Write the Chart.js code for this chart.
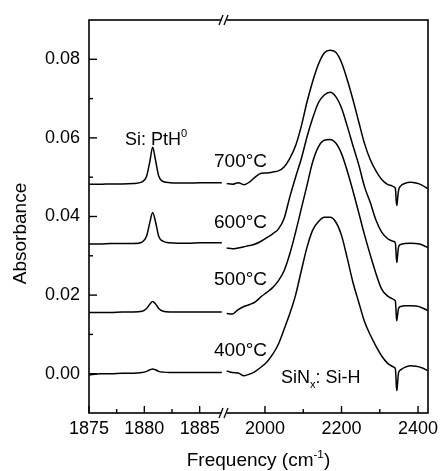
<!DOCTYPE html>
<html>
<head>
<meta charset="utf-8">
<script src="https://cdn.jsdelivr.net/npm/chart.js@4.4.0/dist/chart.umd.min.js"></script>
<style>
html,body{margin:0;padding:0;background:#fff;}
canvas{display:block;}
</style>
</head>
<body>
<canvas id="c" width="442" height="471"></canvas>
<script>
// ---- data (frequency in cm-1, absorbance) ----
const leftFreq = [1875, 1876, 1877, 1878, 1879, 1879.8, 1880.2, 1880.5, 1880.75, 1881.0, 1881.3, 1881.7, 1882.3, 1883, 1884, 1885, 1886, 1887];
const left700 = [0.0482,0.0482,0.0483,0.0483,0.0484,0.0488,0.0502,0.0540,0.0576,0.0545,0.0503,0.0489,0.0486,0.0485,0.0485,0.0486,0.0486,0.0486];
const left600 = [0.0330,0.0330,0.0331,0.0331,0.0331,0.0335,0.0350,0.0385,0.0410,0.0388,0.0350,0.0337,0.0333,0.0332,0.0332,0.0333,0.0333,0.0333];
const left500 = [0.0156,0.0156,0.0156,0.0157,0.0157,0.0159,0.0166,0.0177,0.0184,0.0178,0.0166,0.0159,0.0157,0.0157,0.0157,0.0157,0.0157,0.0157];
const left400 = [-0.0003,0.0000,0.0000,0.0001,0.0001,0.0003,0.0006,0.0010,0.0012,0.0010,0.0006,0.0004,0.0003,0.0003,0.0003,0.0003,0.0003,0.0003];

const rightFreq = [1900,1915,1930,1945,1960,1975,1990,2005,2020,2035,2050,2065,2080,2095,2110,2125,2140,2155,2170,2185,2200,2215,2230,2245,2260,2275,2290,2305,2320,2332,2338,2341,2343,2344.5,2346,2349,2355,2365,2380,2395,2410,2425];
const right700 = [0.0484,0.0482,0.0486,0.0481,0.0488,0.0501,0.0510,0.0511,0.0513,0.0516,0.0526,0.0548,0.0580,0.0630,0.0692,0.0745,0.0788,0.0816,0.0823,0.0818,0.0792,0.0748,0.0697,0.0641,0.0586,0.0545,0.0516,0.0494,0.0482,0.0478,0.0475,0.0470,0.0440,0.0428,0.0440,0.0466,0.0478,0.0484,0.0487,0.0485,0.0480,0.0471];
const right600 = [0.0320,0.0318,0.0320,0.0323,0.0326,0.0330,0.0337,0.0346,0.0356,0.0368,0.0395,0.0450,0.0500,0.0547,0.0603,0.0651,0.0690,0.0709,0.0716,0.0705,0.0676,0.0630,0.0580,0.0532,0.0476,0.0436,0.0391,0.0360,0.0344,0.0338,0.0336,0.0331,0.0300,0.0283,0.0295,0.0322,0.0329,0.0331,0.0332,0.0331,0.0328,0.0321];
const right500 = [0.0153,0.0152,0.0163,0.0171,0.0176,0.0183,0.0196,0.0207,0.0219,0.0236,0.0262,0.0305,0.0360,0.0420,0.0480,0.0540,0.0578,0.0594,0.0596,0.0587,0.0560,0.0516,0.0465,0.0410,0.0354,0.0303,0.0255,0.0215,0.0198,0.0191,0.0188,0.0183,0.0150,0.0135,0.0145,0.0166,0.0171,0.0173,0.0173,0.0172,0.0168,0.0161];
const right400 = [0.0007,0.0003,0.0002,-0.0005,-0.0001,0.0006,0.0017,0.0030,0.0049,0.0075,0.0113,0.0153,0.0200,0.0262,0.0322,0.0366,0.0387,0.0398,0.0398,0.0386,0.0352,0.0294,0.0232,0.0182,0.0133,0.0099,0.0070,0.0045,0.0027,0.0019,0.0016,0.0011,-0.0025,-0.0043,-0.0030,0.0002,0.0010,0.0016,0.0020,0.0019,0.0015,0.0008];

const yMajorTicks = [0, 0.02, 0.04, 0.06, 0.08];
const yMinorTicks = [0.01, 0.03, 0.05, 0.07];
const xLeftMajorTicks = [1875, 1880, 1885];
const xLeftMinorTicks = [1877.5, 1882.5];
const xRightMajorTicks = [2000, 2200, 2400];
const xRightMinorTicks = [2100, 2300];

const temperatureLabels = ['700°C', '600°C', '500°C', '400°C'];

// ---- build datasets ----
function pts(xs, ys){ return xs.map((x,i)=>({x:x, y:ys[i]})); }
const lineStyle = {borderColor:'#000', borderWidth:1.5, pointRadius:0, fill:false, cubicInterpolationMode:'monotone', yAxisID:'y'};
const datasets = [
  Object.assign({label:'700 L', data:pts(leftFreq,left700), xAxisID:'x1'}, lineStyle),
  Object.assign({label:'600 L', data:pts(leftFreq,left600), xAxisID:'x1'}, lineStyle),
  Object.assign({label:'500 L', data:pts(leftFreq,left500), xAxisID:'x1'}, lineStyle),
  Object.assign({label:'400 L', data:pts(leftFreq,left400), xAxisID:'x1'}, lineStyle),
  Object.assign({label:'700 R', data:pts(rightFreq,right700), xAxisID:'x2'}, lineStyle),
  Object.assign({label:'600 R', data:pts(rightFreq,right600), xAxisID:'x2'}, lineStyle),
  Object.assign({label:'500 R', data:pts(rightFreq,right500), xAxisID:'x2'}, lineStyle),
  Object.assign({label:'400 R', data:pts(rightFreq,right400), xAxisID:'x2'}, lineStyle)
];

const FONT = "'Liberation Sans', Arial, Helvetica, sans-serif";

function drawRich(ctx, parts, x, y, size){
  let cx = x;
  for (const p of parts){
    const s = p.sup || p.sub ? size*0.62 : size;
    ctx.font = s + 'px ' + FONT;
    const dy = p.sup ? -size*0.42 : (p.sub ? size*0.28 : 0);
    ctx.fillText(p.t, cx, y + dy);
    cx += ctx.measureText(p.t).width;
  }
  return cx - x;
}
function richWidth(ctx, parts, size){
  let w = 0;
  for (const p of parts){
    const s = p.sup || p.sub ? size*0.62 : size;
    ctx.font = s + 'px ' + FONT;
    w += ctx.measureText(p.t).width;
  }
  return w;
}

const framePlugin = {
  id:'frame',
  afterDatasetsDraw(chart){
    const {ctx, chartArea:a, scales} = chart;
    const y = scales.y, x1 = scales.x1, x2 = scales.x2;
    ctx.save();
    ctx.strokeStyle = '#000';
    ctx.fillStyle = '#000';
    ctx.lineWidth = 1.6;
    ctx.strokeRect(a.left, a.top, a.right - a.left, a.bottom - a.top);
    function seg(xa, ya, xb, yb){ ctx.beginPath(); ctx.moveTo(xa, ya); ctx.lineTo(xb, yb); ctx.stroke(); }
    ctx.lineWidth = 1.4;
    yMajorTicks.forEach(v=>{ const p = y.getPixelForValue(v); seg(a.left, p, a.left + 8, p); });
    yMinorTicks.forEach(v=>{ const p = y.getPixelForValue(v); seg(a.left, p, a.left + 4, p); });
    xLeftMajorTicks.forEach(v=>{ const p = x1.getPixelForValue(v); seg(p, a.bottom, p, a.bottom - 7); });
    xLeftMinorTicks.forEach(v=>{ const p = x1.getPixelForValue(v); seg(p, a.bottom, p, a.bottom - 4); });
    xRightMajorTicks.forEach(v=>{ const p = x2.getPixelForValue(v); seg(p, a.bottom, p, a.bottom - 7); });
    xRightMinorTicks.forEach(v=>{ const p = x2.getPixelForValue(v); seg(p, a.bottom, p, a.bottom - 4); });
    // axis breaks
    const bx = x1.right;
    [a.top, a.bottom].forEach(by=>{
      ctx.fillStyle = '#fff';
      ctx.fillRect(bx - 2.5, by - 2, 5, 4);
      ctx.lineWidth = 1.3;
      seg(bx - 5, by + 5, bx - 1, by - 5);
      seg(bx, by + 5, bx + 4, by - 5);
    });
    ctx.fillStyle = '#000';
    // axis titles
    ctx.textAlign = 'center';
    ctx.textBaseline = 'alphabetic';
    ctx.save();
    ctx.translate(25.5, 233.5);
    ctx.rotate(-Math.PI/2);
    ctx.font = '19px ' + FONT;
    ctx.fillText('Absorbance', 0, 0);
    ctx.restore();
    ctx.textAlign = 'left';
    const tParts = [{t:'Frequency (cm'}, {t:'-1', sup:true}, {t:')'}];
    const tw = richWidth(ctx, tParts, 19);
    drawRich(ctx, tParts, (a.left + a.right)/2 - tw/2, 466, 19);
    // annotations
    drawRich(ctx, [{t:'Si: PtH'}, {t:'0', sup:true}], 125, 145, 18);
    const tempY = [167, 228, 285, 356];
    temperatureLabels.forEach((t,i)=>{
      ctx.font = '19px ' + FONT;
      ctx.fillText(t, 214, tempY[i]);
    });
    drawRich(ctx, [{t:'SiN'}, {t:'x', sub:true}, {t:': Si-H'}], 281, 383, 18);
    ctx.restore();
  }
};

const tickFont = {family: FONT, size: 18};
function fixedTicks(list){ return s => { s.ticks = list.map(v=>({value:v})); }; }
function fitX(s){ s.height = 58; s.paddingLeft = 0; s.paddingRight = 0; }
new Chart(document.getElementById('c'), {
  type:'line',
  data:{datasets: datasets},
  options:{
    responsive:false,
    animation:false,
    devicePixelRatio:1,
    layout:{padding:{top:20, right:14, left:0, bottom:0}},
    plugins:{legend:{display:false}, tooltip:{enabled:false}},
    scales:{
      x1:{type:'linear', position:'bottom', stack:'freq', stackWeight:135, min:1875, max:1887.2,
          afterBuildTicks:fixedTicks(xLeftMajorTicks),
          ticks:{color:'#000', font:tickFont, padding:5, maxRotation:0, autoSkip:false, callback:v=>String(v)},
          grid:{display:false, drawTicks:false}, border:{display:false},
          afterFit:fitX},
      x2:{type:'linear', position:'bottom', stack:'freq', stackWeight:204, min:1893, max:2426,
          afterBuildTicks:fixedTicks(xRightMajorTicks),
          ticks:{color:'#000', font:tickFont, padding:5, maxRotation:0, autoSkip:false, callback:v=>String(v)},
          grid:{display:false, drawTicks:false}, border:{display:false},
          afterFit:fitX},
      y:{type:'linear', position:'left', min:-0.01, max:0.09,
          afterBuildTicks:fixedTicks(yMajorTicks),
          ticks:{color:'#000', font:tickFont, padding:9, callback:v=>v.toFixed(2)},
          grid:{display:false, drawTicks:false}, border:{display:false},
          afterFit:s=>{s.width = 89; s.paddingTop = 0; s.paddingBottom = 0;}}
    }
  },
  plugins:[framePlugin]
});
</script>
</body>
</html>
